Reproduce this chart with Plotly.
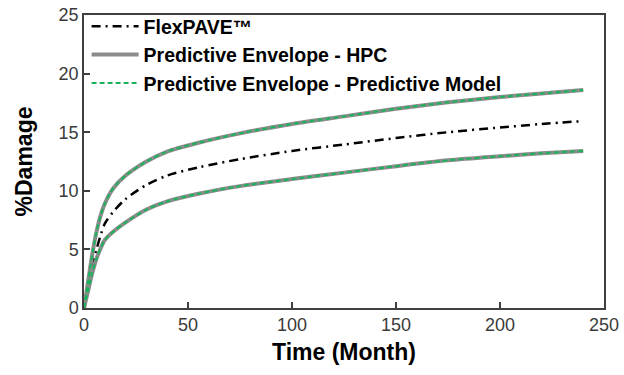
import plotly.graph_objects as go

# Time in months and %Damage for the three predictions
time_month = [0, 2, 4, 6, 8, 10, 14, 20, 30, 40, 55, 75, 100, 125, 150, 175, 200, 220, 240]
flexpave = [0, 1.8, 3.6, 5.0, 6.2, 7.2, 8.2, 9.3, 10.5, 11.3, 12.0, 12.7, 13.4, 13.95, 14.5, 15.0, 15.4, 15.7, 15.95]
envelope_upper = [0, 2.3, 4.6, 6.5, 7.9, 8.9, 10.2, 11.3, 12.5, 13.35, 14.1, 14.9, 15.7, 16.35, 17.0, 17.55, 18.0, 18.3, 18.6]
envelope_lower = [0, 1.5, 3.0, 4.2, 5.1, 5.8, 6.5, 7.3, 8.4, 9.1, 9.75, 10.4, 11.0, 11.55, 12.1, 12.6, 12.95, 13.2, 13.4]

x_ticks = [0, 50, 100, 150, 200, 250]
y_ticks = [0, 5, 10, 15, 20, 25]

GRAY = "#8c8c8c"
GREEN = "#19b35a"

fig = go.Figure()

fig.add_trace(go.Scatter(
    x=time_month, y=flexpave, mode="lines", name="FlexPAVE™",
    line=dict(color="black", width=2.5, dash="9px,5px,2px,5px", shape="spline", smoothing=0.8),
))

# HPC envelope (grey solid), upper and lower bounds
for i, env in enumerate([envelope_upper, envelope_lower]):
    fig.add_trace(go.Scatter(
        x=time_month, y=env, mode="lines", name="Predictive Envelope - HPC",
        showlegend=(i == 0),
        line=dict(color=GRAY, width=4, shape="spline", smoothing=0.8),
    ))

# Predictive-model envelope (green dashed), upper and lower bounds
for i, env in enumerate([envelope_upper, envelope_lower]):
    fig.add_trace(go.Scatter(
        x=time_month, y=env, mode="lines", name="Predictive Envelope - Predictive Model",
        showlegend=(i == 0),
        line=dict(color=GREEN, width=2, dash="5px,3px", shape="spline", smoothing=0.8),
    ))

axis_common = dict(
    showgrid=False, zeroline=False, showline=True, linecolor="#404040", linewidth=1.5,
    mirror=True, ticks="inside", ticklen=6, tickcolor="#404040", tickwidth=1.5,
    tickfont=dict(family="Liberation Sans, Arial", size=18, color="#3a3a3a"),
)

fig.update_layout(
    width=624, height=375,
    margin=dict(l=84, r=20, t=15, b=67, autoexpand=False),
    paper_bgcolor="white", plot_bgcolor="white",
    showlegend=True,
    legend=dict(
        x=0.005, y=1.027, xanchor="left", yanchor="top",
        bgcolor="rgba(0,0,0,0)", borderwidth=0, itemwidth=47, tracegroupgap=0,
        font=dict(family="Liberation Sans, Arial", size=19.5, color="black", weight="bold"),
    ),
    xaxis=dict(
        range=[0, 250], tickvals=x_ticks,
        title=dict(text="<b>Time (Month)</b>", standoff=10,
                   font=dict(family="Liberation Sans, Arial", size=23, color="black")),
        **axis_common,
    ),
    yaxis=dict(
        range=[0, 25], tickvals=y_ticks,
        title=dict(text="<b>%Damage</b>", standoff=20,
                   font=dict(family="Liberation Sans, Arial", size=23, color="black")),
        **axis_common,
    ),
)

fig.write_html("out.html")
